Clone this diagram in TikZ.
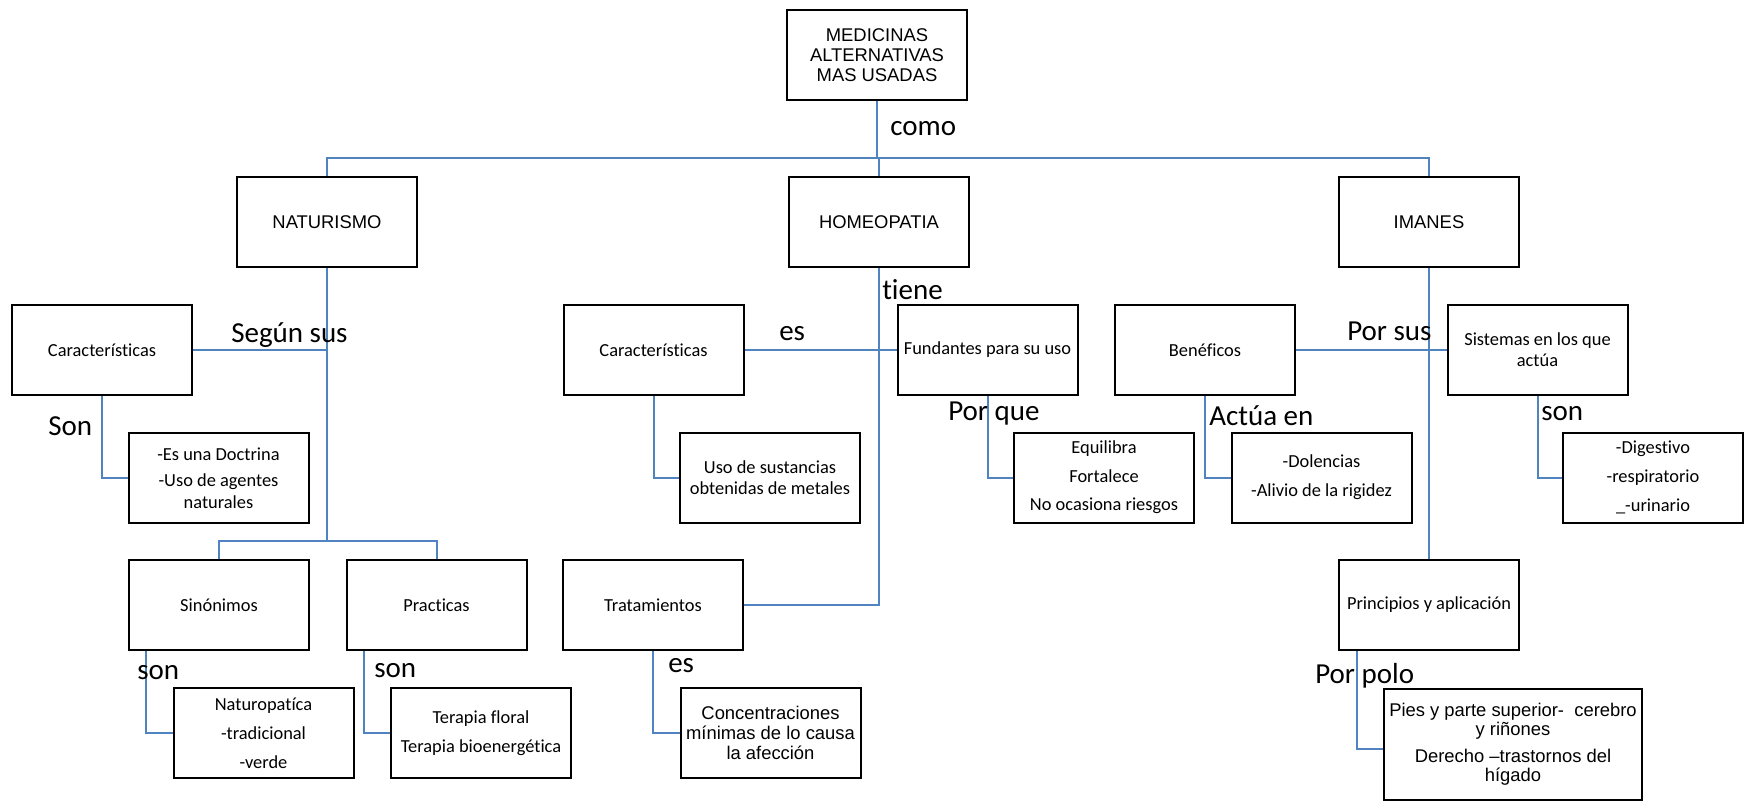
\documentclass[tikz,border=0pt]{standalone}
\usepackage{fontspec}
\setmainfont{Carlito}
\newfontfamily\arialf{Liberation Sans}
\newfontfamily\calif[Ligatures=NoCommon]{Carlito}
\definecolor{conn}{HTML}{4F84C0}
\begin{document}
\begin{tikzpicture}[x=0.75pt,y=-0.75pt,
  box/.style={draw=black,line width=1.5pt,minimum width=135pt,minimum height=67.5pt,inner sep=0pt,align=center,font=\calif\fontsize{13.8}{16.5}\selectfont},
  abox/.style={box,font=\arialf\fontsize{13.8}{15}\selectfont},
  lbl/.style={anchor=base west,inner sep=0pt,font=\calif\fontsize{21.75}{24}\selectfont},
  cn/.style={draw=conn,line width=1.5pt}]
\useasboundingbox (0,0) rectangle (1745,807);
% boxes
\node[abox] (top) at (877,55) {MEDICINAS\\ALTERNATIVAS\\MAS USADAS};
\node[abox] (nat) at (327,222) {NATURISMO};
\node[abox] (hom) at (879,222) {HOMEOPATIA};
\node[abox] (ima) at (1429,222) {IMANES};
\node[box] (carN) at (102,350) {Características};
\node[box] (doc) at (218.5,478) {-Es una Doctrina\\[3pt]-Uso de agentes\\naturales};
\node[box] (sin) at (219,605) {Sinónimos};
\node[box] (pra) at (436.5,605) {Practicas};
\node[box] (nap) at (263.5,733) {Naturopatíca\\[5.25pt]-tradicional\\[5.25pt]-verde};
\node[box] (ter) at (481,733) {Terapia floral\\[5.25pt]Terapia bioenergética};
\node[box] (carH) at (653.5,350) {Características};
\node[box] (fun) at (987.5,350) {Fundantes para su uso};
\node[box] (uso) at (770,477.5) {Uso de sustancias\\[-1pt]obtenidas de metales};
\node[box] (tra) at (653,605) {Tratamientos};
\node[abox] (con) at (770.5,732.5) {Concentraciones\\mínimas de lo causa\\la afección};
\node[box] (equ) at (1104,477.5) {Equilibra\\[5pt]Fortalece\\[5pt]No ocasiona riesgos};
\node[box] (ben) at (1205,350) {Benéficos};
\node[box] (sis) at (1537.5,350) {Sistemas en los que\\[-0.75pt]actúa};
\node[box] (dol) at (1321.5,477.5) {-Dolencias\\[5.25pt]-Alivio de la rigidez};
\node[box] (dig) at (1653,477.5) {-Digestivo\\[5pt]-respiratorio\\[5pt]\_-urinario};
\node[box] (pri) at (1429,605) {Principios y aplicación};
\node[abox,minimum width=193.5pt,minimum height=83.25pt,font=\arialf\fontsize{13.8}{14.25}\selectfont] (pie) at (1513,744.5) {Pies y parte superior-\ \ cerebro\\y riñones\\[6pt]Derecho –trastornos del\\hígado};
% junctions
\coordinate (j0) at (877,158);
\coordinate (jN) at (327,541);
% connectors
\draw[cn] (top.south) -- (j0);
\draw[cn] (nat.north) |- (j0) -| (ima.north);
\draw[cn] (hom.north) -- (hom.north |- j0);
\draw[cn] (nat.south) -- (jN);
\draw[cn] (sin.north) |- (jN) -| (pra.north);
\draw[cn] (carN.east) -- (carN.east -| nat.south);
\draw[cn] (carN.south) |- (doc.west);
\draw[cn] ([xshift=13.5pt]sin.south west) |- (nap.west);
\draw[cn] ([xshift=13.5pt]pra.south west) |- (ter.west);
\draw[cn] (hom.south) |- (tra.east);
\draw[cn] (carH.east) -- (fun.west);
\draw[cn] (carH.south) |- (uso.west);
\draw[cn] (tra.south) |- (con.west);
\draw[cn] (fun.south) |- (equ.west);
\draw[cn] (ima.south) -- (pri.north);
\draw[cn] (ben.east) -- (sis.west);
\draw[cn] (ben.south) |- (dol.west);
\draw[cn] (sis.south) |- (dig.west);
\draw[cn] ([xshift=14.25pt]pri.south west) |- ([yshift=-3.4pt]pie.west);
% labels
\node[lbl] (l1) at (890,135) {como};
\node[lbl] (l2) at (231,342) {Según sus};
\node[lbl] (l3) at (48,435) {Son};
\node[lbl] (l4) at (137,679) {son};
\node[lbl] (l5) at (374,677) {son};
\node[lbl] (l6) at (882,299) {tiene};
\node[lbl] (l7) at (779,340) {es};
\node[lbl] (l8) at (948,420) {Por que};
\node[lbl] (l9) at (668,672) {es};
\node[lbl] (l10) at (1347,340) {Por sus};
\node[lbl] (l11) at (1209,425) {Actúa en};
\node[lbl] (l12) at (1541,420) {son};
\node[lbl] (l13) at (1315,683) {Por polo};
\end{tikzpicture}
\end{document}
